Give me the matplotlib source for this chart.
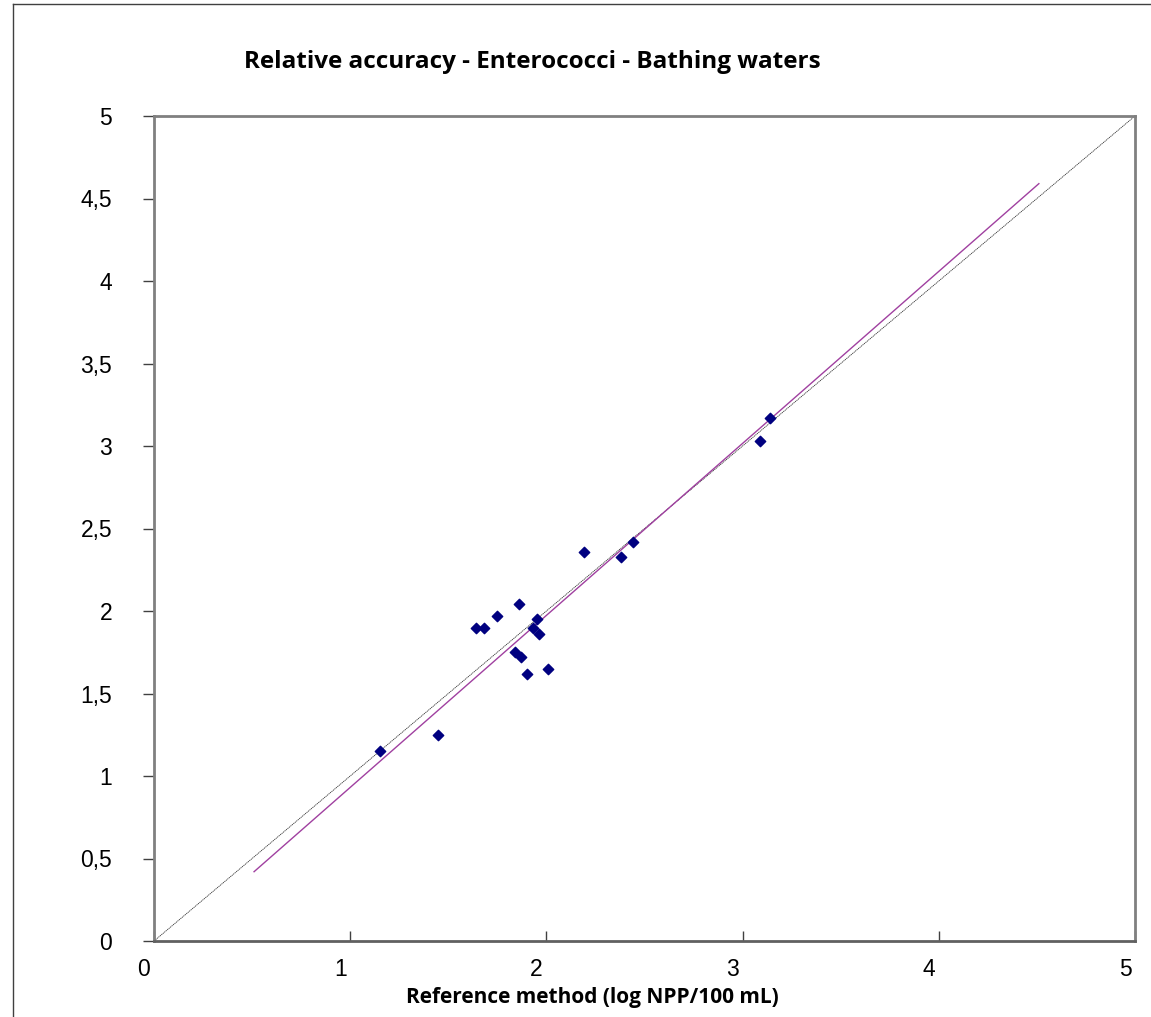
# Relative accuracy scatter - Enterococci, bathing waters

import matplotlib
matplotlib.use("Agg")
import matplotlib.pyplot as plt
import matplotlib.transforms as mtrans
from matplotlib.lines import Line2D

# Data
ref_method = [1.15, 1.45, 1.64, 1.68, 1.75, 1.86, 1.84, 1.87, 1.90, 1.93,
              1.95, 1.96, 2.01, 2.19, 2.38, 2.44, 3.09, 3.14]
alt_method = [1.15, 1.25, 1.90, 1.90, 1.97, 2.04, 1.75, 1.72, 1.62, 1.90,
              1.95, 1.86, 1.65, 2.36, 2.33, 2.42, 3.03, 3.17]

# regression line end points
fit_x = [0.51, 4.51]
fit_y = [0.42, 4.59]

# identity line
diag_x = [0, 5]
diag_y = [0, 5]

ticks = [0, 0.5, 1, 1.5, 2, 2.5, 3, 3.5, 4, 4.5, 5]
tick_labels = ["0", "0,5", "1", "1,5", "2", "2,5", "3", "3,5", "4", "4,5", "5"]
x_ticks = [0, 1, 2, 3, 4, 5]

fig = plt.figure(figsize=(11.51, 10.17), dpi=100)
ax = fig.add_axes([154 / 1151, 1 - 941 / 1017, 981 / 1151, 825 / 1017])

ax.plot(diag_x, diag_y, color="#333333", lw=0.6, linestyle=(0, (1.5, 0.8)))
ax.plot(fit_x, fit_y, color="#a040a0", lw=1.0)
ax.scatter(ref_method, alt_method, marker="D", s=28, color="#000080", zorder=3)

ax.set_xlim(0, 5)
ax.set_ylim(0, 5)
ax.set_xticks(x_ticks)
ax.set_xticklabels([str(t) for t in x_ticks])
ax.set_yticks(ticks)
ax.set_yticklabels(tick_labels)

for s in ax.spines.values():
    s.set_color("#808080")
    s.set_linewidth(2)
ax.spines["bottom"].set_color("#606060")

ax.tick_params(axis="y", direction="out", length=8, width=1, color="#404040",
               labelsize=16.5, pad=22)
ax.tick_params(axis="x", direction="in", length=7, width=1, color="#404040",
               labelsize=16.5, pad=12)
for lab in ax.get_xticklabels() + ax.get_yticklabels():
    lab.set_fontfamily("Liberation Sans")

# x tick labels sit to the left of their ticks in the reference
offset = mtrans.ScaledTranslation(-10 / 100, 0, fig.dpi_scale_trans)
for lab in ax.get_xticklabels():
    lab.set_transform(lab.get_transform() + offset)

fig.text(532 / 1151, 1 - 62 / 1017, "Relative accuracy - Enterococci - Bathing waters",
         ha="center", va="center", fontsize=17.5, fontweight="bold", family="Open Sans")
fig.text(592 / 1151, 1 - 997 / 1017, "Reference method (log NPP/100 mL)",
         ha="center", va="center", fontsize=15, fontweight="bold", family="Open Sans")

# outer chart border (left and top visible)
fig.add_artist(Line2D([13 / 1151, 13 / 1151], [0, 1 - 4 / 1017],
                      transform=fig.transFigure, color="#404040", lw=1))
fig.add_artist(Line2D([13 / 1151, 1], [1 - 4 / 1017, 1 - 4 / 1017],
                      transform=fig.transFigure, color="#404040", lw=1))

fig.savefig("out.png", dpi=100)
